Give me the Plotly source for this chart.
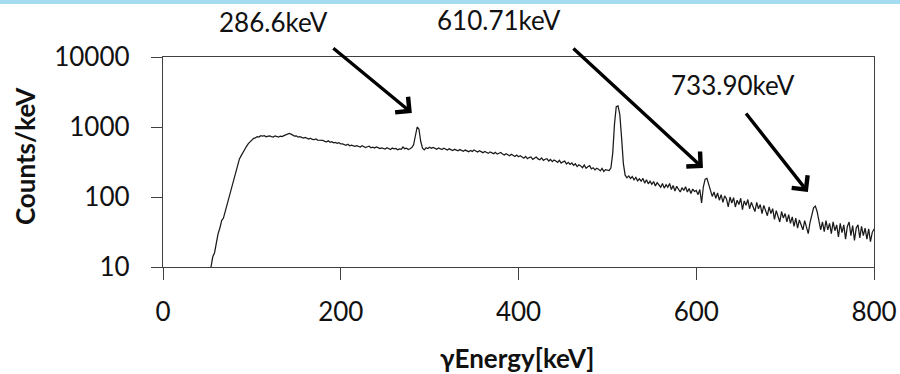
import plotly.graph_objects as go

# Gamma-ray spectrum, 2 keV bins; each block lists counts/keV starting at the given energy
counts_054_110 = [10, 14, 16, 22, 30, 36, 46, 50, 62, 82, 98, 120, 150, 185, 240, 300, 350, 390,
                  440, 490, 530, 580, 620, 650, 690, 700, 730, 720, 750]
counts_112_200 = [740, 752, 726, 738, 748, 730, 720, 744, 733, 718,
                  742, 728, 752, 768, 786, 808, 790, 762, 740, 748,
                  716, 728, 704, 694, 712, 684, 672, 692, 664, 658,
                  676, 650, 646, 636, 644, 622, 614, 634, 606, 618,
                  594, 602, 584, 598, 572]
counts_202_300 = [575, 560, 548, 566, 540, 552, 545, 528, 541, 534,
                  518, 540, 526, 510, 522, 531, 505, 514, 500, 520,
                  508, 492, 503, 497, 484, 506, 490, 478, 500, 488,
                  494, 472, 486, 480, 518, 490, 498, 476, 488, 508,
                  560, 780, 1000, 930, 620, 500, 472, 505, 492, 515]
counts_302_400 = [498, 510, 490, 482, 503, 494, 476, 499, 485, 470,
                  488, 478, 462, 480, 471, 458, 476, 466, 450, 468,
                  455, 444, 462, 448, 470, 452, 440, 459, 447, 430,
                  446, 438, 420, 441, 428, 416, 434, 410, 422, 432,
                  412, 398, 416, 402, 388, 408, 392, 380, 398, 376]
counts_402_500 = [388, 370, 358, 380, 352, 366, 374, 345, 360, 372,
                  350, 340, 362, 334, 346, 352, 326, 344, 320, 338,
                  326, 312, 334, 304, 318, 326, 296, 312, 292, 306,
                  284, 298, 272, 288, 278, 262, 286, 258, 270, 280,
                  252, 262, 244, 258, 250, 236, 256, 232, 246, 240]
counts_502_600 = [238, 262, 420, 1100, 1950, 2000, 1500, 700, 300, 205,
                  188, 200, 184, 196, 176, 190, 170, 182, 168, 184,
                  158, 176, 154, 168, 152, 166, 144, 160, 150, 138,
                  156, 134, 150, 138, 156, 128, 146, 122, 142, 130,
                  118, 136, 124, 140, 118, 132, 112, 130, 120, 124]
counts_602_700 = [108, 128, 82, 140, 180, 185, 150, 118, 102, 118,
                  96, 114, 90, 108, 84, 104, 94, 72, 100, 82,
                  98, 72, 90, 78, 96, 66, 88, 76, 92, 68,
                  84, 72, 62, 84, 68, 78, 58, 76, 64, 54,
                  72, 58, 68, 48, 64, 54, 44, 62, 50, 58]
counts_702_800 = [44, 56, 42, 52, 38, 50, 36, 47, 41, 34,
                  46, 36, 30, 43, 55, 70, 74, 62, 46, 34,
                  44, 32, 46, 34, 42, 30, 44, 33, 40, 27,
                  42, 31, 40, 25, 38, 44, 28, 39, 24, 36,
                  40, 26, 38, 28, 36, 25, 35, 23, 31, 35]

blocks = [(54, counts_054_110), (112, counts_112_200), (202, counts_202_300),
          (302, counts_302_400), (402, counts_402_500), (502, counts_502_600),
          (602, counts_602_700), (702, counts_702_800)]

energy, counts = [], []
for start, vals in blocks:
    energy += [start + 2 * i for i in range(len(vals))]
    counts += vals

x_ticks = [0, 200, 400, 600, 800]
y_ticks = [10, 100, 1000, 10000]

# Peak labels: text, centre position (paper), arrow tip (keV, log10 counts), arrow tail offset (px)
peak_labels = ["286.6keV", "610.71keV", "733.90keV"]
label_pos = [(0.1558, 1.167), (0.472, 1.176), (0.8023, 0.867)]
arrow_tip = [(280.0, 3.20), (607.5, 2.414), (725.6, 2.071)]
arrow_tail = [(-80, -66), (-131, -121), (-63, -80)]

FONT = "Lato, 'Open Sans', sans-serif"
AXIS_COLOR = "#404040"
TEXT_COLOR = "#111111"

fig = go.Figure()
fig.add_trace(go.Scatter(x=energy, y=counts, mode="lines",
                         line=dict(color="#1a1a1a", width=1.25),
                         showlegend=False, hoverinfo="skip"))

fig.update_xaxes(range=[0, 800], tickvals=x_ticks, ticktext=[str(v) for v in x_ticks],
                 automargin=False, showgrid=False, zeroline=False, showline=True,
                 linecolor=AXIS_COLOR, linewidth=1.4, mirror=True, ticks="outside",
                 ticklen=12, tickwidth=1.4, tickcolor=AXIS_COLOR, ticklabelstandoff=10,
                 tickfont=dict(family=FONT, size=26, color=TEXT_COLOR))
fig.update_yaxes(type="log", range=[1, 4], tickvals=y_ticks, ticktext=[str(v) for v in y_ticks],
                 automargin=False, showgrid=False, zeroline=False, showline=True,
                 linecolor=AXIS_COLOR, linewidth=1.4, mirror=True, ticks="outside",
                 ticklen=11, tickwidth=1.4, tickcolor=AXIS_COLOR, ticklabelstandoff=16,
                 tickfont=dict(family=FONT, size=26, color=TEXT_COLOR))

annotations = [
    dict(text="<b>Counts/keV</b>", xref="paper", yref="paper", x=-0.194, y=0.5286,
         xanchor="center", yanchor="middle", textangle=-90, showarrow=False,
         font=dict(family=FONT, size=26, color=TEXT_COLOR)),
    dict(text="<b>γEnergy[keV]</b>", xref="paper", yref="paper", x=0.4977, y=-0.433,
         xanchor="center", yanchor="middle", showarrow=False,
         font=dict(family=FONT, size=26, color=TEXT_COLOR)),
]
for text, (px, py) in zip(peak_labels, label_pos):
    annotations.append(dict(text=text, xref="paper", yref="paper", x=px, y=py,
                            xanchor="center", yanchor="middle", showarrow=False,
                            font=dict(family=FONT, size=26, color=TEXT_COLOR)))
for (tx, ty), (ax, ay) in zip(arrow_tip, arrow_tail):
    annotations.append(dict(text="", x=tx, y=ty, xref="x", yref="y", ax=ax, ay=ay,
                            showarrow=True, arrowhead=4, arrowsize=1.15, arrowwidth=3.4,
                            arrowcolor="#000000"))

fig.update_layout(
    width=900, height=374,
    margin=dict(l=163, r=26, t=57, b=107),
    paper_bgcolor="white", plot_bgcolor="white",
    annotations=annotations,
    shapes=[dict(type="rect", xref="paper", yref="paper",
                 x0=-163 / 711, x1=1 + 26 / 711, y0=1 + 53 / 210, y1=1 + 57 / 210,
                 line=dict(width=0), fillcolor="#a6dcf2", layer="above")],
)

fig.write_html("out.html")
